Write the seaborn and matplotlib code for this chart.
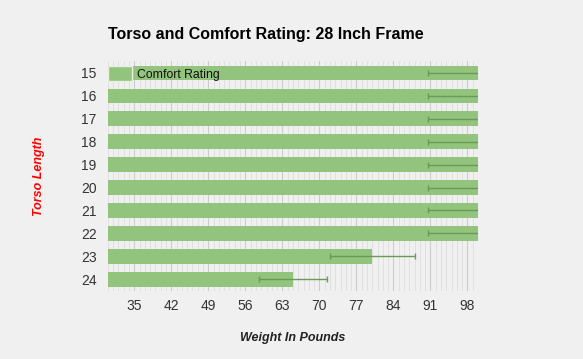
import matplotlib
matplotlib.use("Agg")
import matplotlib.pyplot as plt
import seaborn as sns
import pandas as pd
import numpy as np
from matplotlib.ticker import MultipleLocator, FixedLocator

torso = ["15", "16", "17", "18", "19", "20", "21", "22", "23", "24"]
comfort = [100, 100, 100, 100, 100, 100, 100, 100, 80, 65]
err = [9.5, 9.5, 9.5, 9.5, 9.5, 9.5, 9.5, 9.5, 8, 6.5]
xticks = [35, 42, 49, 56, 63, 70, 77, 84, 91, 98]

df = pd.DataFrame({"Torso": torso, "Comfort Rating": comfort, "err": err})

sns.set_style("white")
plt.rcParams["font.family"] = ["Liberation Sans", "DejaVu Sans"]

fig = plt.figure(figsize=(5.83, 3.59), dpi=100, facecolor="#f0f0f0")
ax = fig.add_axes([0.185, 0.189, 0.635, 0.641])
ax.set_facecolor("#f0f0f0")

sns.barplot(data=df, x="Comfort Rating", y="Torso", orient="h", color="#93c47d",
            saturation=1, width=0.64, ax=ax, label="Comfort Rating", zorder=2,
            linewidth=0, edgecolor="none")
ax.errorbar(df["Comfort Rating"], np.arange(len(torso)), xerr=df["err"], fmt="none",
            ecolor="#6a9a58", elinewidth=1, capsize=2, zorder=3)

ax.set_xlim(30, 100)
ax.set_ylim(9.52, -0.52)
ax.xaxis.set_major_locator(FixedLocator(xticks))
ax.xaxis.set_minor_locator(MultipleLocator(1))
ax.grid(axis="x", which="major", color="#cccccc", linewidth=0.8, zorder=0)
ax.grid(axis="x", which="minor", color="#dddddd", linewidth=0.6, zorder=0)
ax.set_axisbelow(True)
for s in ax.spines.values():
    s.set_visible(False)
ax.tick_params(axis="both", which="both", length=0, labelsize=10, colors="#333333")
ax.tick_params(axis="x", pad=6)
ax.tick_params(axis="y", pad=8)

ax.set_xlabel("Weight In Pounds", fontsize=9, fontstyle="italic", fontweight="bold",
              color="#222222", labelpad=13)
ax.set_ylabel("Torso Length", fontsize=9, fontstyle="italic", fontweight="bold",
              color="#ff0000", labelpad=26)
fig.text(108 / 583, 1 - 35 / 359, "Torso and Comfort Rating: 28 Inch Frame",
         fontsize=11.5, fontweight="bold", color="#000000", va="center", ha="left")

leg = ax.legend(loc="center left", frameon=False, fontsize=8.8,
                bbox_to_anchor=(0.0, 0.946), bbox_transform=ax.transAxes,
                handlelength=1.95, handleheight=1.4, borderaxespad=0, borderpad=0,
                handletextpad=0.4)
for h in leg.legend_handles:
    h.set_edgecolor("#e8f0e0")
    h.set_linewidth(1)
for t in leg.get_texts():
    t.set_color("#111111")

fig.savefig("out.png", dpi=100, facecolor="#f0f0f0")
